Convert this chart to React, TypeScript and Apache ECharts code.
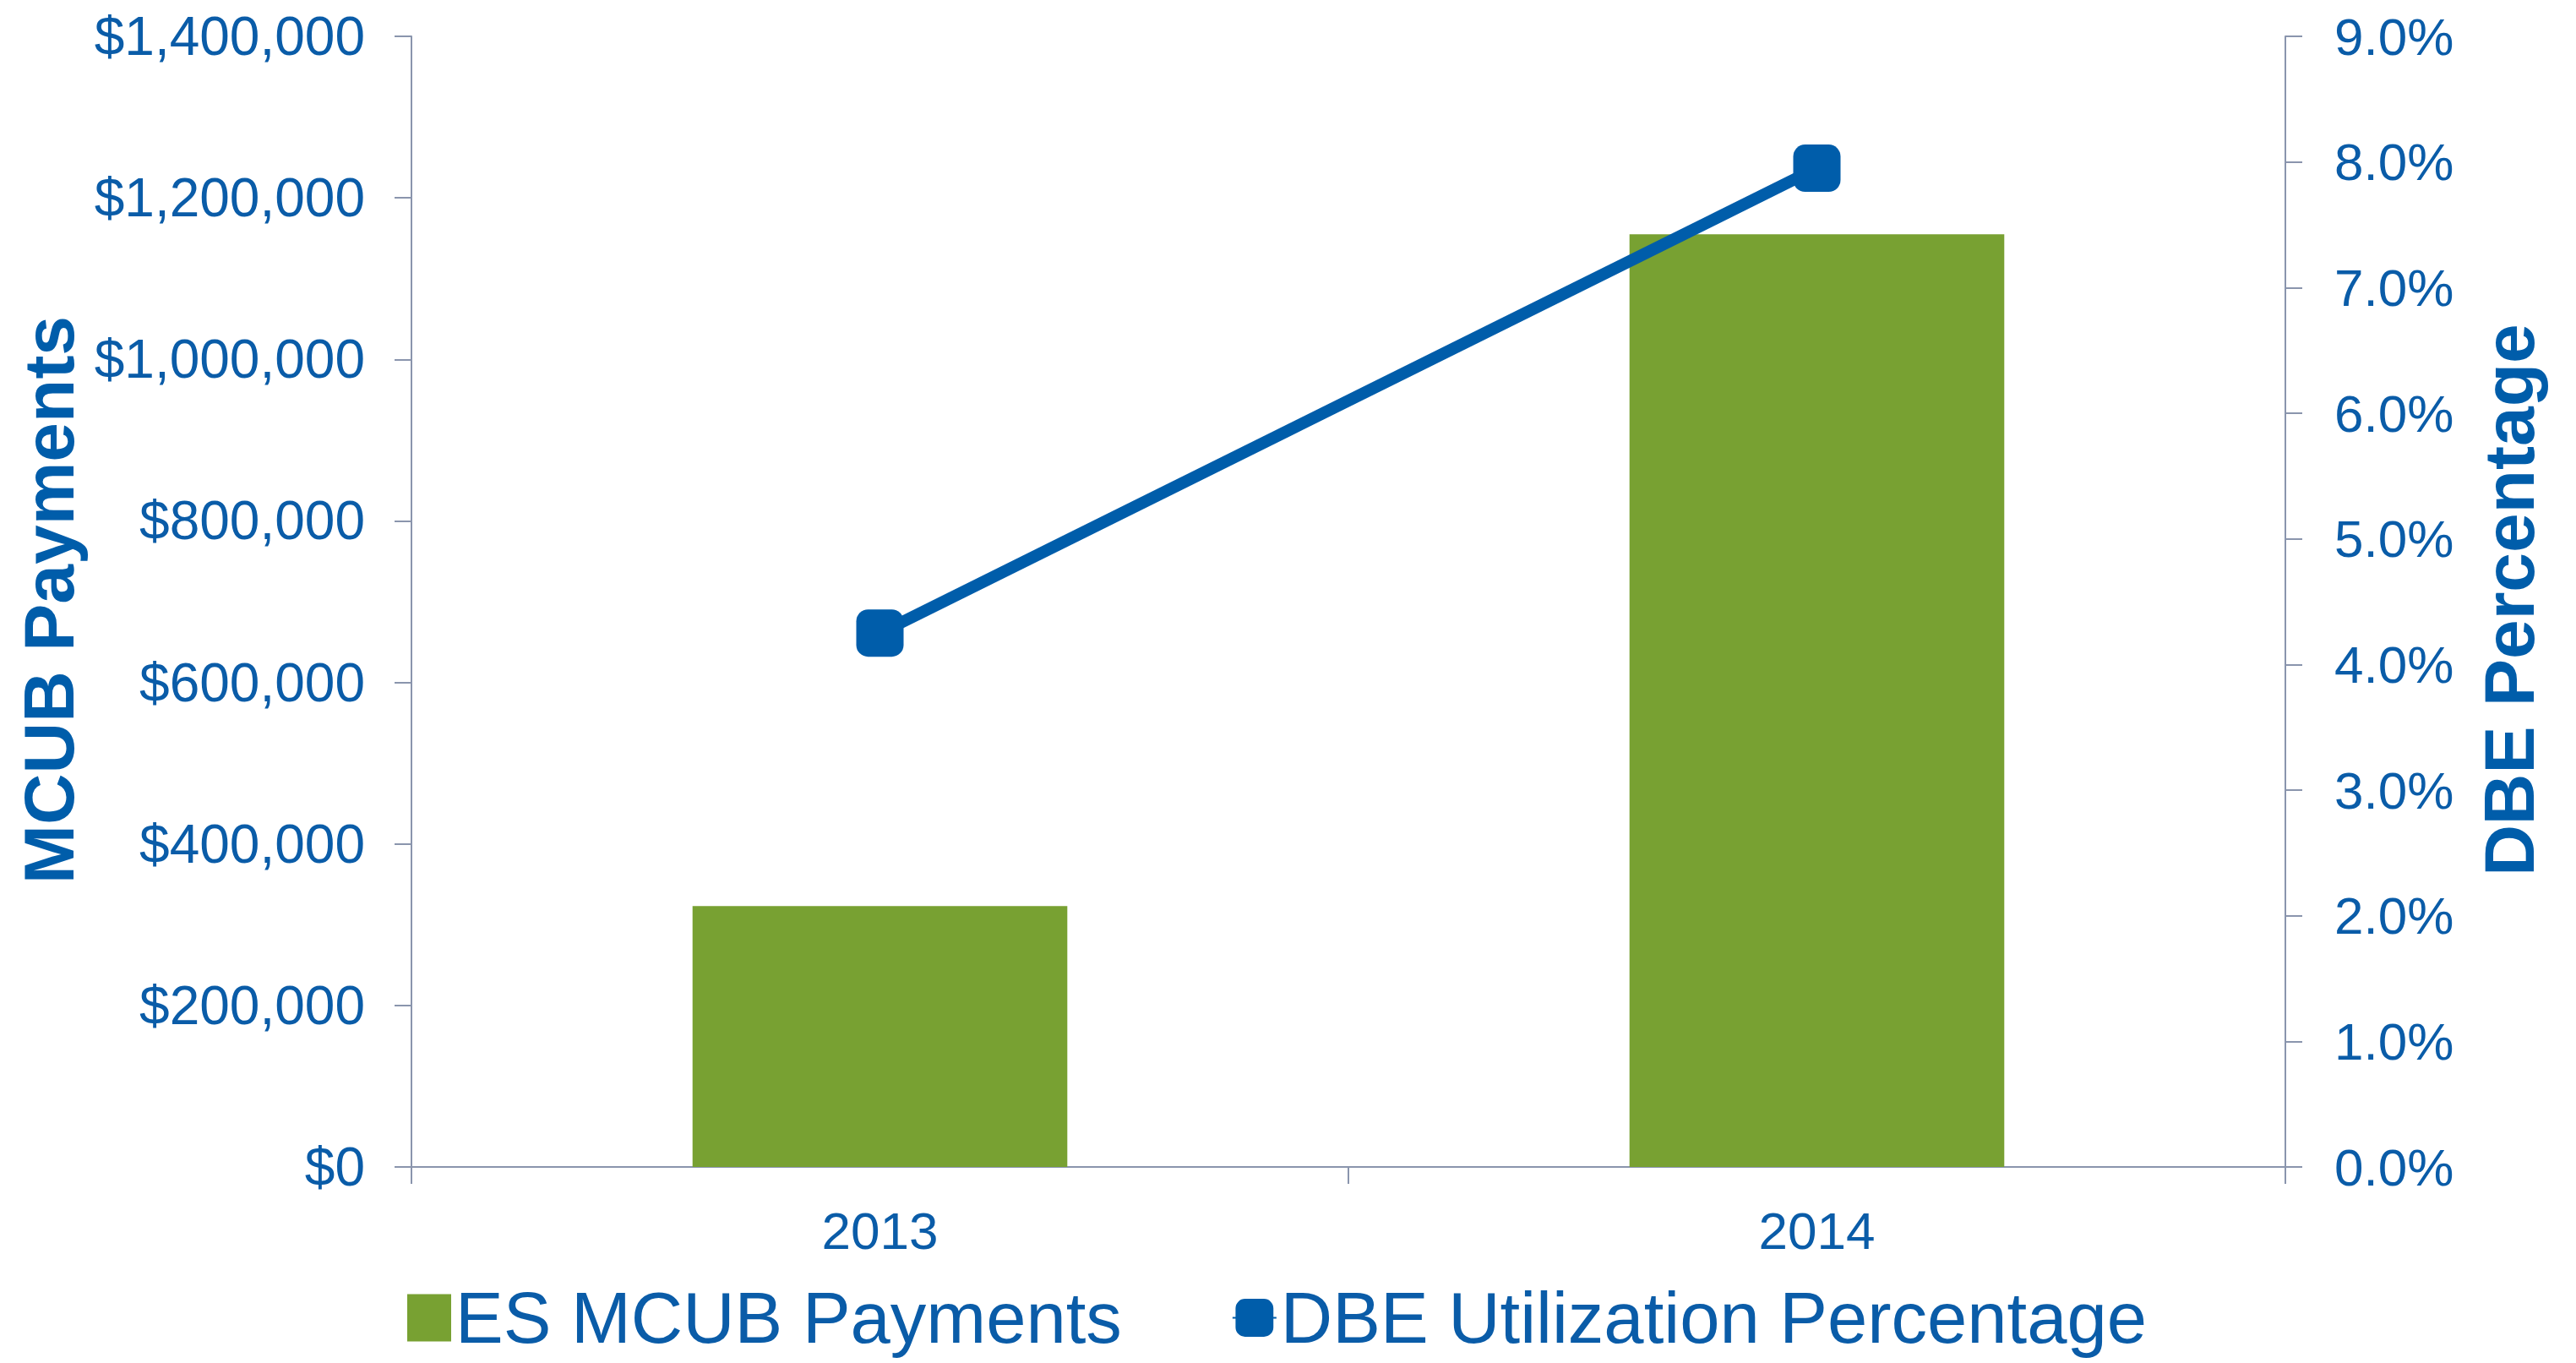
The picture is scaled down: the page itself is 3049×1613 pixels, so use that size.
import React, { useEffect, useRef } from "react";
import * as echarts from "echarts";

const categories = ["2013", "2014"];
const paymentValues = [323000, 1155000];
const dbePercentValues = [4.25, 7.95];
const leftAxisMax = 1400000;
const leftAxisInterval = 200000;
const rightAxisMax = 9;
const rightAxisInterval = 1;
const seriesNames = ["ES MCUB Payments", "DBE Utilization Percentage"];
const axisTitles = ["MCUB Payments", "DBE Percentage"];

const BLUE = "#005DAA";
const TEXT = "#0A5CA8";
const GREEN = "#78A132";
const AXIS = "#8A95AD";
const FONT = '"Liberation Sans", Arial, sans-serif';

export default function App() {
  const ref = useRef<HTMLDivElement>(null);
  useEffect(() => {
    if (!ref.current) return;
    const chart = echarts.init(ref.current, undefined, { renderer: "svg" });
    const fmtMoney = (v: number) => "$" + Math.round(v).toLocaleString("en-US");
    chart.setOption({
      animation: false,
      backgroundColor: "#ffffff",
      textStyle: { fontFamily: FONT },
      grid: { left: 487, right: 344, top: 43, bottom: 232, containLabel: false },
      legend: {
        left: 477,
        top: 1512,
        itemWidth: 52,
        itemHeight: 56,
        itemGap: 130,
        textStyle: { color: TEXT, fontSize: 85, fontFamily: FONT, lineHeight: 85 },
        data: [
          { name: seriesNames[0], icon: "rect" },
          { name: seriesNames[1] },
        ],
      },
      graphic: [
        {
          type: "text",
          x: 58,
          y: 710,
          rotation: Math.PI / 2,
          style: {
            text: axisTitles[0],
            fill: BLUE,
            fontSize: 84,
            fontWeight: "bold",
            fontFamily: FONT,
            align: "center",
            verticalAlign: "middle",
          },
        },
        {
          type: "text",
          x: 2970,
          y: 710,
          rotation: Math.PI / 2,
          style: {
            text: axisTitles[1],
            fill: BLUE,
            fontSize: 84,
            fontWeight: "bold",
            fontFamily: FONT,
            align: "center",
            verticalAlign: "middle",
          },
        },
      ],
      xAxis: {
        type: "category",
        data: categories,
        axisLine: { show: true, lineStyle: { color: AXIS, width: 2 } },
        axisTick: { show: true, length: 20, lineStyle: { color: AXIS, width: 2 } },
        axisLabel: { color: TEXT, fontSize: 62, margin: 44, fontFamily: FONT },
        splitLine: { show: false },
      },
      yAxis: [
        {
          type: "value",
          min: 0,
          max: leftAxisMax,
          interval: leftAxisInterval,
          position: "left",
          axisLine: { show: true, lineStyle: { color: AXIS, width: 2 } },
          axisTick: { show: true, length: 20, lineStyle: { color: AXIS, width: 2 } },
          axisLabel: { color: TEXT, fontSize: 64, margin: 55, fontFamily: FONT, formatter: fmtMoney },
          splitLine: { show: false },
        },
        {
          type: "value",
          min: 0,
          max: rightAxisMax,
          interval: rightAxisInterval,
          position: "right",
          axisLine: { show: true, lineStyle: { color: AXIS, width: 2 } },
          axisTick: { show: true, length: 20, lineStyle: { color: AXIS, width: 2 } },
          axisLabel: {
            color: TEXT,
            fontSize: 62,
            margin: 58,
            fontFamily: FONT,
            formatter: (v: number) => v.toFixed(1) + "%",
          },
          splitLine: { show: false },
        },
      ],
      series: [
        {
          name: seriesNames[0],
          type: "bar",
          yAxisIndex: 0,
          data: paymentValues,
          barWidth: "40%",
          itemStyle: { color: GREEN },
        },
        {
          name: seriesNames[1],
          type: "line",
          yAxisIndex: 1,
          data: dbePercentValues,
          symbol: "roundRect",
          symbolSize: 56,
          lineStyle: { color: BLUE, width: 14 },
          itemStyle: { color: BLUE },
        },
      ],
    });
    return () => chart.dispose();
  }, []);
  return (
    <div
      ref={ref}
      style={{ position: "fixed", left: 0, top: 0, width: 3049, height: 1613 }}
    />
  );
}
